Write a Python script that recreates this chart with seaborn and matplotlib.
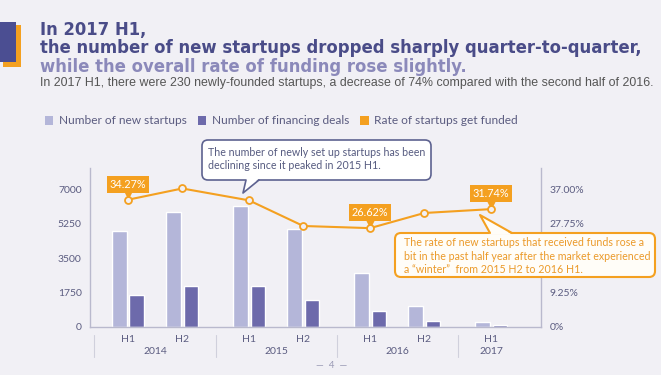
import numpy as np
import pandas as pd
import matplotlib
matplotlib.use("Agg")
import matplotlib.pyplot as plt
import matplotlib.transforms as mtransforms
from matplotlib.patches import Rectangle, Polygon, FancyBboxPatch, Patch
from matplotlib.lines import Line2D
import seaborn as sns

# ---------------- data ----------------
halves = ["H1", "H2", "H1", "H2", "H1", "H2", "H1"]
years = ["2014", "2014", "2015", "2015", "2016", "2016", "2017"]
new_startups = [4900, 5880, 6180, 4990, 2730, 1070, 270]
financing_deals = [1640, 2080, 2080, 1360, 800, 330, 120]
funding_rate = [34.27, 37.3, 34.1, 27.2, 26.62, 30.7, 31.74]
rate_labels = {0: "34.27%", 4: "26.62%", 6: "31.74%"}
left_ticks = [0, 1750, 3500, 5250, 7000]
right_ticks = [0, 9.25, 18.5, 27.75, 37.0]
# the 18.50% label is hidden behind the callout in the reference
right_tick_labels = ["0%", "9.25%", "", "27.75%", "37.00%"]
series_names = ["Number of new startups", "Number of financing deals"]
rate_name = "Rate of startups get funded"

title_lines = ["In 2017 H1,",
               "the number of new startups dropped sharply quarter-to-quarter,",
               "while the overall rate of funding rose slightly."]
subtitle = ("In 2017 H1, there were 230 newly-founded startups, a decrease of 74% "
            "compared with the second half of 2016.")
note1 = "The number of newly set up startups has been\ndeclining since it peaked in 2015 H1."
note2 = ("The rate of new startups that received funds rose a\n"
         "bit in the past half year after the market experienced\n"
         "a \u201cwinter\u201d  from 2015 H2 to 2016 H1.")

# ---------------- style ----------------
BG = "#f1f0f5"
LIGHT = "#b4b6d9"
DARK = "#6d6aab"
ORANGE = "#f4a020"
TITLE = "#4a4c88"
TITLE3 = "#8b89ba"
TICK = "#5b5c80"
SPINE = "#b9b9cd"

sns.set_style("white")
plt.rcParams["font.family"] = ["Lato", "DejaVu Sans"]

W, H = 661, 375
fig = plt.figure(figsize=(W / 100, H / 100), dpi=100, facecolor=BG)
ident = mtransforms.IdentityTransform()


def P(x, y):
    return (x, H - y)


ax = fig.add_axes([90 / W, 1 - 327 / H, (541 - 90) / W, (327 - 168) / H])
ax.set_facecolor(BG)

YEAR_GAP = 0.23
year_idx = pd.factorize(pd.Series(years))[0]
xpos = np.arange(len(halves)) + YEAR_GAP * year_idx

df = pd.DataFrame({
    "x": np.concatenate([xpos, xpos]),
    "value": new_startups + financing_deals,
    "series": [series_names[0]] * len(xpos) + [series_names[1]] * len(xpos),
})

sns.barplot(data=df, x="x", y="value", hue="series", native_scale=True,
            palette=[LIGHT, DARK], width=0.645, gap=0.17, saturation=1,
            errorbar=None, legend=False, ax=ax)

ax.set_xlim(-0.70, 7.61)
ax.set_ylim(0, 8100)
ax.set_yticks(left_ticks)
ax.set_yticklabels([str(v) for v in left_ticks])
ax.set_xticks(xpos)
ax.set_xticklabels(halves)
ax.set_xlabel("")
ax.set_ylabel("")
ax.tick_params(axis="both", length=0, labelsize=7.5, colors=TICK)
ax.tick_params(axis="y", pad=6)
ax.tick_params(axis="x", pad=6)
for s in ["top", "right"]:
    ax.spines[s].set_visible(False)
for s in ["left", "bottom"]:
    ax.spines[s].set_color(SPINE)
    ax.spines[s].set_linewidth(1.0)

# year labels & separators
blend = mtransforms.blended_transform_factory(ax.transData, ax.transAxes)
uniq_years = list(dict.fromkeys(years))
for yi, yr in enumerate(uniq_years):
    xs = xpos[year_idx == yi]
    ax.annotate(yr, xy=(xs.mean(), 0), xycoords=blend, xytext=(0, -18),
                textcoords="offset points", ha="center", va="center",
                fontsize=7.5, color=TICK)
seps = [xpos[0] - 0.62]
for yi in range(1, len(uniq_years)):
    seps.append((xpos[year_idx == yi - 1].max() + xpos[year_idx == yi].min()) / 2)
for sx in seps:
    ax.plot([sx, sx], [-0.05, -0.19], transform=blend, color="#d0d0dc",
            lw=0.8, clip_on=False)

# twin axis: funding rate
ax2 = ax.twinx()
ax2.set_ylim(0, 8100 / 7000 * 37)
sns.lineplot(x=xpos, y=funding_rate, ax=ax2, color=ORANGE, lw=1.5,
             marker="o", markersize=5, markerfacecolor=BG,
             markeredgecolor=ORANGE, markeredgewidth=1.3, zorder=5)
ax2.set_yticks(right_ticks)
ax2.set_yticklabels(right_tick_labels)
ax2.tick_params(axis="y", length=0, labelsize=7.5, colors=TICK, pad=6)
for s in ["top", "left", "bottom"]:
    ax2.spines[s].set_visible(False)
ax2.spines["right"].set_color(SPINE)
ax2.spines["right"].set_linewidth(1.0)

tri_tr = mtransforms.offset_copy(ax2.transData, fig=fig, x=0, y=3.8, units="points")
for i, lab in rate_labels.items():
    ax2.plot([xpos[i]], [funding_rate[i]], marker="v", ms=6, color=ORANGE,
             transform=tri_tr, zorder=4, clip_on=False)
    ax2.annotate(lab, xy=(xpos[i], funding_rate[i]), xytext=(0, 11),
                 textcoords="offset points", ha="center", va="center",
                 fontsize=7.8, color="white", zorder=6,
                 bbox=dict(boxstyle="square,pad=0.28", fc=ORANGE, ec="none"))

# ---------------- header ----------------
renderer = fig.canvas.get_renderer()


def fit(t, width_px):
    w = t.get_window_extent(renderer).width
    t.set_fontsize(t.get_fontsize() * width_px / w)
    return t.get_fontsize()


fig.add_artist(Rectangle(P(3, 67), 18, 42, transform=ident, fc=ORANGE, ec="none"))
fig.add_artist(Rectangle(P(0, 61.7), 15.7, 40, transform=ident, fc="#4b4e92", ec="none"))

TFONT = ["DejaVu Sans"]
t2 = fig.text(40 / W, 1 - 53 / H, title_lines[1], fontsize=12, weight="bold",
              color=TITLE, va="baseline", family=TFONT)
fs = fit(t2, 601)
fig.text(40 / W, 1 - 35 / H, title_lines[0], fontsize=fs, weight="bold",
         color=TITLE, va="baseline", family=TFONT)
fig.text(40 / W, 1 - 71.5 / H, title_lines[2], fontsize=fs, weight="bold",
         color=TITLE3, va="baseline", family=TFONT)
ts = fig.text(40 / W, 1 - 86 / H, subtitle, fontsize=8, color="#555555",
              va="baseline", family=["Liberation Sans", "DejaVu Sans"])
fit(ts, 618)

# legend
handles = [Patch(fc=LIGHT, ec="none"), Patch(fc=DARK, ec="none"),
           Patch(fc=ORANGE, ec="none")]
fig.legend(handles, series_names + [rate_name], loc="center left",
           bbox_to_anchor=(34 / W, 1 - 121 / H), ncol=3, frameon=False,
           handlelength=0.7, handleheight=0.7, handletextpad=0.5,
           columnspacing=0.9, fontsize=8.6, labelcolor=TICK)

# ---------------- callouts ----------------
def callout(x0, y0, x1, y1, base, apex, fc, ec, lw):
    fig.add_artist(FancyBboxPatch(P(x0, y1), x1 - x0, y1 - y0,
                                  boxstyle="round,pad=0,rounding_size=6",
                                  transform=ident, fc=fc, ec=ec, lw=lw, zorder=10))
    by = y1 if apex[1] > y1 else y0
    inset = -1.5 if apex[1] > y1 else 1.5
    fig.add_artist(Polygon([P(base[0], by + inset), P(base[1], by + inset), P(*apex)],
                           closed=True, transform=ident, fc=fc, ec="none", zorder=11))
    fig.add_artist(Line2D([P(base[0], by)[0], apex[0], base[1]],
                          [P(0, by)[1], P(*apex)[1], P(0, by)[1]],
                          transform=ident, color=ec, lw=lw, zorder=12))


callout(202, 140, 431, 180, (246, 259), (243, 193), "white", "#5d6290", 1.2)
n1 = fig.text(208 / W, 1 - 159 / H, note1, fontsize=8, color="#565b80",
              va="center", ha="left", linespacing=1.3, zorder=13)
fit(n1, 218)

callout(395, 233, 655, 277, (490, 512), (480, 215), "#fffdf8", ORANGE, 1.5)
n2 = fig.text(404 / W, 1 - 256 / H, note2, fontsize=8, color="#eb9a2a",
              va="center", ha="left", linespacing=1.25, zorder=13)
fit(n2, 247)

fig.text(332 / W, 1 - 366 / H, "\u2014  4  \u2014", fontsize=7, color="#9a9ab5",
         ha="center", va="center")

fig.savefig("out.png", dpi=100, facecolor=BG)
